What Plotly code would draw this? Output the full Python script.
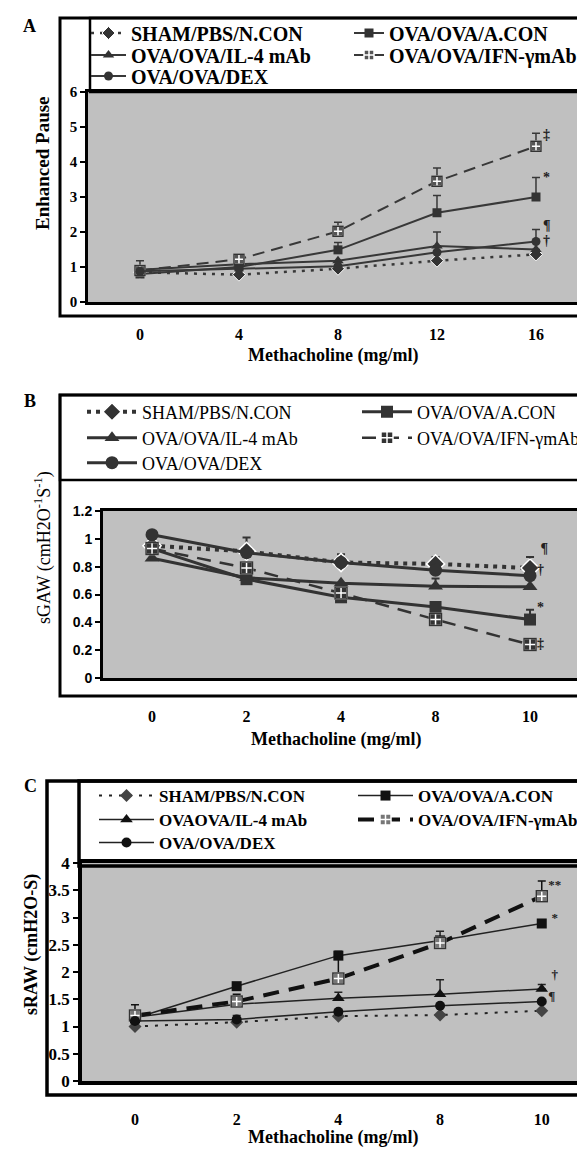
import plotly.graph_objects as go

W, H = 585, 1149

# ---------------- data ----------------
dose_A = ["0", "4", "8", "12", "16"]
dose_BC = ["0", "2", "4", "8", "10"]
names_AB = ["SHAM/PBS/N.CON", "OVA/OVA/A.CON", "OVA/OVA/IL-4 mAb", "OVA/OVA/IFN-γmAb", "OVA/OVA/DEX"]
names_C = ["SHAM/PBS/N.CON", "OVA/OVA/A.CON", "OVAOVA/IL-4 mAb", "OVA/OVA/IFN-γmAb", "OVA/OVA/DEX"]

# Panel A: Enhanced pause
penh_sham = [0.85, 0.78, 0.95, 1.18, 1.36]
penh_acon = [0.80, 1.00, 1.49, 2.55, 3.00]
penh_il4 = [0.92, 1.08, 1.18, 1.60, 1.50]
penh_ifn = [0.90, 1.22, 2.02, 3.45, 4.45]
penh_dex = [0.88, 0.95, 1.02, 1.42, 1.73]
penh_sham_err = [0.33, 0, 0, 0, 0]
penh_acon_err = [0, 0, 0.21, 0.49, 0.56]
penh_il4_err = [0, 0, 0, 0.40, 0]
penh_ifn_err = [0, 0, 0.26, 0.38, 0.37]
penh_dex_err = [0, 0, 0, 0, 0.34]
sig_A_text = ["‡", "*", "¶", "†"]
sig_A_y = [4.77, 3.54, 2.17, 1.74]

# Panel B: sGAW
sgaw_sham = [0.95, 0.91, 0.83, 0.82, 0.79]
sgaw_acon = [0.93, 0.71, 0.58, 0.51, 0.42]
sgaw_il4 = [0.86, 0.72, 0.68, 0.66, 0.655]
sgaw_ifn = [0.93, 0.79, 0.61, 0.42, 0.24]
sgaw_dex = [1.03, 0.90, 0.83, 0.775, 0.735]
sgaw_sham_err = [0, 0.10, 0.06, 0.05, 0.08]
sgaw_acon_err = [0, 0, 0, 0, 0.07]
sgaw_il4_err = [0, 0, 0, 0.055, 0]
sgaw_ifn_err = [0, 0, 0, 0, 0]
sgaw_dex_err = [0, 0, 0, 0, 0]
sig_B_text = ["¶", "†", "*", "‡"]
sig_B_y = [0.92, 0.77, 0.50, 0.24]

# Panel C: sRAW
sraw_sham = [1.00, 1.08, 1.19, 1.21, 1.29]
sraw_acon = [1.15, 1.74, 2.30, 2.58, 2.89]
sraw_il4 = [1.17, 1.41, 1.52, 1.59, 1.69]
sraw_ifn = [1.20, 1.46, 1.88, 2.53, 3.39]
sraw_dex = [1.10, 1.13, 1.27, 1.38, 1.46]
sraw_sham_err = [0, 0, 0, 0, 0]
sraw_acon_err = [0, 0, 0.08, 0.17, 0]
sraw_il4_err = [0, 0, 0.11, 0.27, 0.08]
sraw_ifn_err = [0.20, 0.13, 0.42, 0, 0.28]
sraw_dex_err = [0, 0.07, 0, 0, 0]
sig_C_text = ["**", "*", "†", "¶"]
sig_C_y = [3.58, 2.97, 1.93, 1.54]

SERIF = "Liberation Serif, Times New Roman, serif"
SANS = "Liberation Sans, Arial, sans-serif"
NBSP = "\u00a0"


def px(x):
    return x / W


def py(y):
    return 1 - y / H


fig = go.Figure()

# ---------------- styles per panel ----------------
panels = [
    dict(xa="x", ya="y", cats=dose_A, names=names_AB,
         vals=[penh_sham, penh_acon, penh_il4, penh_ifn, penh_dex],
         errs=[penh_sham_err, penh_acon_err, penh_il4_err, penh_ifn_err, penh_dex_err],
         lines=[dict(width=2.5, dash="3px,6px", color="#383838"),
                dict(width=2, color="#383838"),
                dict(width=2, color="#383838"),
                dict(width=2, dash="12px,7px", color="#383838"),
                dict(width=2, color="#383838")],
         markers=[dict(symbol="diamond", size=10, color="#333", line=dict(color="white", width=1)),
                  dict(symbol="square", size=9, color="#333", line=dict(width=0)),
                  dict(symbol="triangle-up", size=10, color="#333", line=dict(width=0)),
                  dict(symbol="square-cross", size=10, color="#555", line=dict(color="white", width=1.5)),
                  dict(symbol="circle", size=9, color="#333", line=dict(width=0))],
         ifn_edge="#333",
         leg_pos=[(78, 25, 35), (341, 25, 30), (78, 47, 35), (341, 47, 30), (78, 68, 35)],
         leg_font=dict(family=SERIF, size=20, color="black", weight="bold"),
         errw=1.5,
         sig_text=sig_A_text, sig_y=sig_A_y, sig_pad=[2, 2, 2, 2], sig_size=14),
    dict(xa="x2", ya="y2", cats=dose_BC, names=names_AB,
         vals=[sgaw_sham, sgaw_acon, sgaw_il4, sgaw_ifn, sgaw_dex],
         errs=[sgaw_sham_err, sgaw_acon_err, sgaw_il4_err, sgaw_ifn_err, sgaw_dex_err],
         lines=[dict(width=4, dash="4px,5px", color="#333"),
                dict(width=3, color="#333"),
                dict(width=3, color="#333"),
                dict(width=2.5, dash="14px,9px", color="#333"),
                dict(width=3, color="#333")],
         markers=[dict(symbol="diamond", size=14, color="#333", line=dict(color="white", width=1.5)),
                  dict(symbol="square", size=12, color="#333", line=dict(width=0)),
                  dict(symbol="triangle-up", size=13, color="#333", line=dict(width=0)),
                  dict(symbol="square-cross", size=12, color="#333", line=dict(color="white", width=1.5)),
                  dict(symbol="circle", size=13, color="#333", line=dict(width=0))],
         ifn_edge="#333",
         leg_pos=[(74, 404, 50), (349, 404, 50), (74, 430, 50), (349, 430, 50), (74, 455, 50)],
         leg_font=dict(family=SERIF, size=18, color="black"),
         errw=2,
         sig_text=sig_B_text, sig_y=sig_B_y, sig_pad=[3, 2, 2, 2], sig_size=14),
    dict(xa="x3", ya="y3", cats=dose_BC, names=names_C,
         vals=[sraw_sham, sraw_acon, sraw_il4, sraw_ifn, sraw_dex],
         errs=[sraw_sham_err, sraw_acon_err, sraw_il4_err, sraw_ifn_err, sraw_dex_err],
         lines=[dict(width=2, dash="3px,7px", color="#222"),
                dict(width=1.5, color="#222"),
                dict(width=1.5, color="#222"),
                dict(width=4, dash="16px,10px", color="#111"),
                dict(width=1.5, color="#222")],
         markers=[dict(symbol="diamond", size=10, color="#444", line=dict(width=0)),
                  dict(symbol="square", size=10, color="#111", line=dict(width=0)),
                  dict(symbol="triangle-up", size=11, color="#111", line=dict(width=0)),
                  dict(symbol="square-cross", size=11, color="#777", line=dict(color="white", width=1.5)),
                  dict(symbol="circle", size=10, color="#111", line=dict(width=0))],
         ifn_edge="#333",
         leg_pos=[(86, 788, 55), (345, 788, 55), (86, 812, 55), (345, 812, 55), (86, 835, 55)],
         leg_font=dict(family=SERIF, size=17, color="black", weight="bold"),
         errw=1.5,
         sig_text=sig_C_text, sig_y=sig_C_y, sig_pad=[2, 3, 3, 2], sig_size=13),
]

legends = {}
k = 0
for p in panels:
    for i in range(5):
        k += 1
        lname = "legend" if k == 1 else f"legend{k}"
        fig.add_trace(go.Scatter(
            x=p["cats"], y=p["vals"][i], name=p["names"][i],
            xaxis=p["xa"], yaxis=p["ya"], mode="lines+markers",
            line=p["lines"][i], marker=p["markers"][i],
            error_y=dict(type="data", symmetric=False, array=p["errs"][i],
                         arrayminus=[0] * 5, color=p["lines"][i]["color"],
                         thickness=p["errw"], width=4),
            legend=lname, showlegend=True, hoverinfo="skip"))
        if i == 3:
            # dark edge around the IFN-γ square markers
            fig.add_trace(go.Scatter(
                x=p["cats"], y=p["vals"][i], xaxis=p["xa"], yaxis=p["ya"], mode="markers",
                marker=dict(symbol="square-open", size=p["markers"][i]["size"],
                            color=p["ifn_edge"], line=dict(width=1.5, color=p["ifn_edge"])),
                showlegend=False, hoverinfo="skip"))
        lx, ly, iw = p["leg_pos"][i]
        legends[lname] = dict(x=px(lx), y=py(ly), xanchor="left", yanchor="middle",
                              xref="paper", yref="paper", bgcolor="rgba(0,0,0,0)",
                              borderwidth=0, itemwidth=iw, font=p["leg_font"],
                              tracegroupgap=0, itemclick=False, itemdoubleclick=False)
    # significance marks beside the last dose
    fig.add_trace(go.Scatter(
        x=[p["cats"][-1]] * len(p["sig_text"]), y=p["sig_y"],
        text=[NBSP * n + t for n, t in zip(p["sig_pad"], p["sig_text"])],
        mode="text", textposition="middle right", cliponaxis=False,
        textfont=dict(family=SERIF, size=p["sig_size"], color="#222", weight="bold"),
        xaxis=p["xa"], yaxis=p["ya"], showlegend=False, hoverinfo="skip"))

# ---------------- axes ----------------
common_x = dict(type="category", showline=True, mirror=True, linecolor="black",
                ticks="", showgrid=False, zeroline=False, fixedrange=True,
                tickfont=dict(family=SERIF, size=16, color="black", weight="bold"))
common_y = dict(showline=True, mirror=True, linecolor="black", ticks="outside",
                ticklen=5, tickwidth=2, tickcolor="black", showgrid=False,
                zeroline=False, fixedrange=True)

fig.update_layout(
    xaxis=dict(common_x, domain=[px(80), px(577)], anchor="y", range=[-0.525, 4.495],
               categoryorder="array", categoryarray=dose_A, linewidth=2.5, ticklabelstandoff=16),
    yaxis=dict(common_y, domain=[py(294), py(84)], anchor="x", range=[0, 6], dtick=1,
               linewidth=2.5, tickfont=dict(family=SERIF, size=15, color="black", weight="bold")),
    xaxis2=dict(common_x, domain=[px(95), px(569)], anchor="y2", range=[-0.519, 4.497],
                categoryorder="array", categoryarray=dose_BC, linewidth=3, ticklabelstandoff=22),
    yaxis2=dict(common_y, domain=[py(670), py(503)], anchor="x2", range=[0, 1.2], dtick=0.2,
                linewidth=3, tickfont=dict(family=SANS, size=14, color="black", weight="bold")),
    xaxis3=dict(common_x, domain=[px(74), px(585)], anchor="y3", range=[-0.521, 4.504],
                categoryorder="array", categoryarray=dose_BC, linewidth=3.5, ticklabelstandoff=21),
    yaxis3=dict(common_y, domain=[py(1073), py(855)], anchor="x3", range=[0, 4], dtick=0.5,
                linewidth=3.5, tickfont=dict(family=SERIF, size=17, color="black", weight="bold")),
)

# ---------------- frames (outer boxes and legend boxes) ----------------
def rect(x0, y0, x1, y1, w):
    fig.add_shape(type="rect", xref="paper", yref="paper",
                  x0=px(x0), x1=px(x1), y0=py(y1), y1=py(y0),
                  line=dict(color="black", width=w), fillcolor="rgba(0,0,0,0)")

rect(52, 10, 582, 308, 3)
rect(82, 10, 582, 84, 2.5)
rect(52, 387, 571, 688, 3)
rect(52, 387, 584, 472, 2.5)
rect(39, 773, 600, 1087, 3.5)
rect(71, 773, 600, 858, 3.5)

# ---------------- text ----------------
def note(x, y, text, size=18, bold=True, angle=0, family=SERIF):
    fig.add_annotation(xref="paper", yref="paper", x=px(x), y=py(y), text=text,
                       showarrow=False, xanchor="center", yanchor="middle", textangle=angle,
                       font=dict(family=family, size=size, color="black",
                                 weight="bold" if bold else "normal"))

note(21, 18, "A", 18)
note(22, 393, "B", 18)
note(22, 778, "C", 18)
note(325, 347, "Methacholine (mg/ml)", 18)
note(328, 731, "Methacholine (mg/ml)", 18)
note(325, 1129, "Methacholine (mg/ml)", 18)
note(34, 155, "Enhanced Pause", 19, angle=-90)
note(35, 540, "sGAW (cmH2O<sup>-1</sup>S<sup>-1</sup>)", 18, bold=False, angle=-90)
note(23, 937, "sRAW (cmH2O-S)", 18, angle=-90)

fig.update_layout(
    width=W, height=H, autosize=False,
    margin=dict(l=0, r=0, t=0, b=0, autoexpand=False),
    paper_bgcolor="white", plot_bgcolor="#c0c0c0",
    **legends,
)

fig.write_html("out.html")
